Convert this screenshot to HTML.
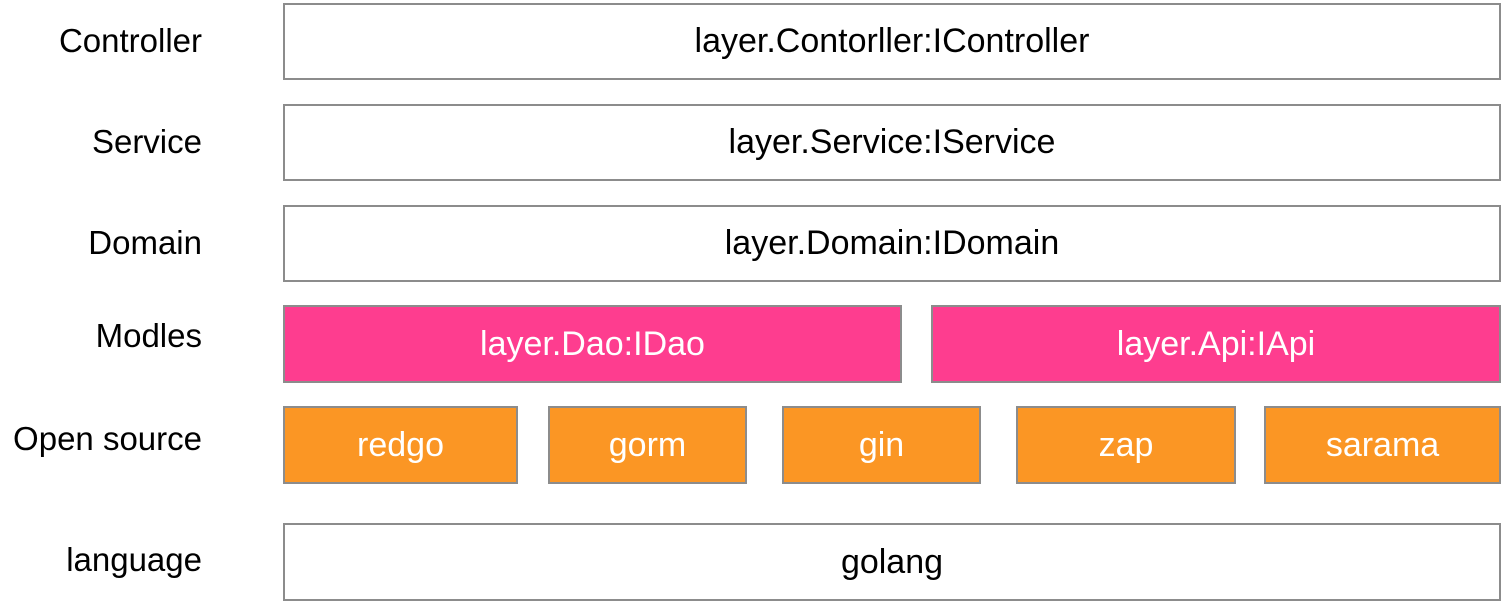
<!DOCTYPE html>
<html><head><style>
body{margin:0;width:1502px;height:602px;background:#fff;position:relative;overflow:hidden;font-family:"Liberation Sans",Arial,sans-serif;}
.b{position:absolute;box-sizing:border-box;border:2px solid #8c8c8c;display:flex;align-items:center;justify-content:center;font-size:34px;color:#000;background:#fff;}
.p{background:#fe3d8f;color:#fff;}
.o{background:#fb9624;color:#fff;}
.l{position:absolute;right:1300px;font-size:33px;line-height:36px;color:#000;white-space:nowrap;}
</style></head><body>
<div class="l" style="top:23px">Controller</div>
<div class="l" style="top:124px">Service</div>
<div class="l" style="top:225px">Domain</div>
<div class="l" style="top:318px">Modles</div>
<div class="l" style="top:421px">Open source</div>
<div class="l" style="top:542px">language</div>

<div class="b" style="left:283px;top:3px;width:1218px;height:77px">layer.Contorller:IController</div>
<div class="b" style="left:283px;top:104px;width:1218px;height:77px">layer.Service:IService</div>
<div class="b" style="left:283px;top:205px;width:1218px;height:77px">layer.Domain:IDomain</div>
<div class="b p" style="left:283px;top:305px;width:619px;height:78px">layer.Dao:IDao</div>
<div class="b p" style="left:931px;top:305px;width:570px;height:78px">layer.Api:IApi</div>
<div class="b o" style="left:283px;top:406px;width:235px;height:78px">redgo</div>
<div class="b o" style="left:548px;top:406px;width:199px;height:78px">gorm</div>
<div class="b o" style="left:782px;top:406px;width:199px;height:78px">gin</div>
<div class="b o" style="left:1016px;top:406px;width:220px;height:78px">zap</div>
<div class="b o" style="left:1264px;top:406px;width:237px;height:78px">sarama</div>
<div class="b" style="left:283px;top:523px;width:1218px;height:78px">golang</div>
</body></html>
